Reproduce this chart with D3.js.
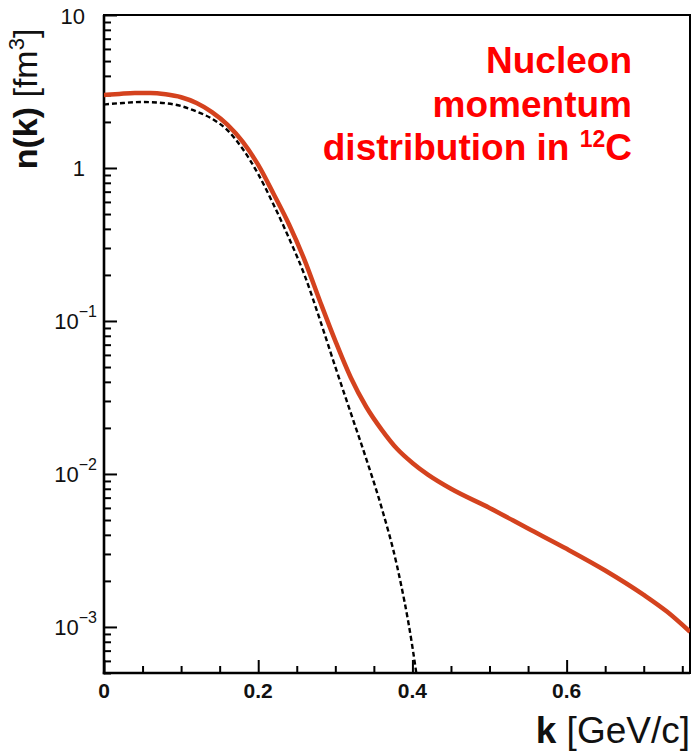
<!DOCTYPE html>
<html>
<head>
<meta charset="utf-8">
<script src="https://cdn.jsdelivr.net/npm/d3@7"></script>
<style>
  html, body { margin: 0; padding: 0; background: #fff; }
  svg { display: block; }
  text { font-family: "Liberation Sans", Arial, sans-serif; }
</style>
</head>
<body>
<svg id="chart" width="692" height="751"></svg>
<script>
// ---- data ----
const kTotal = [0, 0.02, 0.04, 0.06, 0.08, 0.10, 0.12, 0.14, 0.16, 0.18, 0.20, 0.22, 0.24, 0.26, 0.28, 0.30, 0.32, 0.34, 0.36, 0.38, 0.40, 0.42, 0.45, 0.50, 0.55, 0.60, 0.65, 0.70, 0.73, 0.76];
const nTotal = [3.0, 3.05, 3.09, 3.09, 3.03, 2.90, 2.66, 2.32, 1.92, 1.48, 1.047, 0.676, 0.427, 0.251, 0.135, 0.0741, 0.0427, 0.0275, 0.0195, 0.0146, 0.0118, 0.0099, 0.0080, 0.0060, 0.0044, 0.00324, 0.00234, 0.00162, 0.00126, 0.00093];

const kMF = [0, 0.02, 0.05, 0.08, 0.10, 0.12, 0.14, 0.16, 0.18, 0.20, 0.22, 0.24, 0.26, 0.28, 0.30, 0.32, 0.34, 0.36, 0.38, 0.40, 0.405];
const nMF = [2.6, 2.65, 2.7, 2.65, 2.54, 2.34, 2.10, 1.77, 1.33, 0.912, 0.575, 0.347, 0.200, 0.102, 0.0501, 0.0251, 0.0126, 0.00603, 0.00251, 0.00074, 0.0005];

const xMajorTicks = [0, 0.2, 0.4, 0.6];
const xTickLabels = ["0", "0.2", "0.4", "0.6"];
const yMajorTicks = [10, 1, 0.1, 0.01, 0.001];
const yTickBase = ["10", "1", "10", "10", "10"];
const yTickExp = ["", "", "\u22121", "\u22122", "\u22123"];

const titleLines = ["Nucleon", "momentum", "distribution in "];

// ---- layout ----
const svg = d3.select("#chart");
const X0 = 104, X1 = 690, Y0 = 15, Y1 = 673;

const x = d3.scaleLinear().domain([0, 0.76]).range([X0, X1]);
const y = d3.scaleLog().domain([5e-4, 10]).range([Y1, Y0]);

// minor ticks
const xMinor = d3.range(0, 0.7601, 0.05).filter(v => !xMajorTicks.some(m => Math.abs(m - v) < 1e-9));
const yMinor = [];
[1e-4, 1e-3, 1e-2, 1e-1, 1].forEach(d => {
  for (let i = 2; i <= 9; i++) {
    const v = d * i;
    if (v >= 5e-4 - 1e-12 && v <= 10) yMinor.push(v);
  }
});

// clip
svg.append("defs").append("clipPath").attr("id", "clip")
  .append("rect").attr("x", X0).attr("y", Y0).attr("width", X1 - X0).attr("height", Y1 - Y0);

// frame (top, right)
svg.append("rect").attr("x", X0).attr("y", Y0).attr("width", X1 - X0).attr("height", Y1 - Y0)
  .attr("fill", "none").attr("stroke", "#000").attr("stroke-width", 2);

// axes
function styleAxis(g) {
  g.select(".domain").remove();
  g.selectAll(".tick line").attr("stroke", "#000").attr("stroke-width", 2);
  g.selectAll(".tick text").remove();
}
svg.append("g").attr("transform", `translate(0,${Y1})`)
  .call(d3.axisBottom(x).tickValues(xMajorTicks).tickSize(-13)).call(styleAxis);
svg.append("g").attr("transform", `translate(0,${Y1})`)
  .call(d3.axisBottom(x).tickValues(xMinor).tickSize(-7)).call(styleAxis);
svg.append("g").attr("transform", `translate(${X0},0)`)
  .call(d3.axisLeft(y).tickValues(yMajorTicks).tickSize(-13)).call(styleAxis);
svg.append("g").attr("transform", `translate(${X0},0)`)
  .call(d3.axisLeft(y).tickValues(yMinor).tickSize(-7)).call(styleAxis);

// axis lines (left, bottom)
svg.append("line").attr("x1", X0).attr("x2", X0).attr("y1", Y0).attr("y2", Y1 + 1.2)
  .attr("stroke", "#000").attr("stroke-width", 2.6);
svg.append("line").attr("x1", X0 - 1.2).attr("x2", X1).attr("y1", Y1).attr("y2", Y1)
  .attr("stroke", "#000").attr("stroke-width", 2.6);

// x tick labels
svg.append("g").selectAll("text").data(xMajorTicks).join("text")
  .attr("x", d => x(d)).attr("y", 698)
  .attr("text-anchor", "middle").attr("font-size", 21).attr("font-weight", "bold")
  .attr("fill", "#111")
  .text((d, i) => xTickLabels[i]);

// y tick labels
const yl = svg.append("g").selectAll("text").data(yMajorTicks).join("text")
  .attr("x", (d, i) => yTickExp[i] ? 97 : 85)
  .attr("y", d => y(d) + 8.5)
  .attr("text-anchor", "end").attr("font-size", 22).attr("fill", "#111");
yl.append("tspan").text((d, i) => yTickBase[i]);
yl.filter((d, i) => yTickExp[i] !== "").append("tspan")
  .attr("dy", -12).attr("font-size", 16)
  .text(d => yTickExp[yMajorTicks.indexOf(d)]);

// curves
const line = d3.line().x(d => x(d[0])).y(d => y(d[1])).curve(d3.curveMonotoneX);
const plot = svg.append("g").attr("clip-path", "url(#clip)");
plot.append("path")
  .attr("d", line(kTotal.map((k, i) => [k, nTotal[i]])))
  .attr("fill", "none").attr("stroke", "#d4421e").attr("stroke-width", 4.5)
  .attr("stroke-linejoin", "round");
plot.append("path")
  .attr("d", line(kMF.map((k, i) => [k, nMF[i]])))
  .attr("fill", "none").attr("stroke", "#000").attr("stroke-width", 2.4)
  .attr("stroke-dasharray", "5,3");

// title
const title = svg.append("g").attr("fill", "#ff0000").attr("font-weight", "bold").attr("font-size", 37);
title.append("text").attr("x", 632).attr("y", 73).attr("text-anchor", "end").text(titleLines[0]);
title.append("text").attr("x", 632).attr("y", 116.5).attr("text-anchor", "end").text(titleLines[1]);
const t3 = title.append("text").attr("x", 632).attr("y", 160).attr("text-anchor", "end");
t3.append("tspan").text(titleLines[2]);
t3.append("tspan").attr("font-size", 23).attr("dy", -13).text("12");
t3.append("tspan").attr("dy", 13).text("C");

// y axis label
const ylab = svg.append("text")
  .attr("transform", "translate(37,99) rotate(-90)")
  .attr("text-anchor", "middle").attr("font-size", 34).attr("fill", "#111");
ylab.append("tspan").attr("font-weight", "bold").text("n(k)");
ylab.append("tspan").text(" [fm");
ylab.append("tspan").attr("font-size", 22).attr("dy", -13).text("3");
ylab.append("tspan").attr("dy", 13).text("]");

// x axis label
const xlab = svg.append("text").attr("x", 690).attr("y", 743)
  .attr("text-anchor", "end").attr("font-size", 37).attr("fill", "#111");
xlab.append("tspan").attr("font-weight", "bold").text("k");
xlab.append("tspan").text(" [GeV/c]");
</script>
</body>
</html>
